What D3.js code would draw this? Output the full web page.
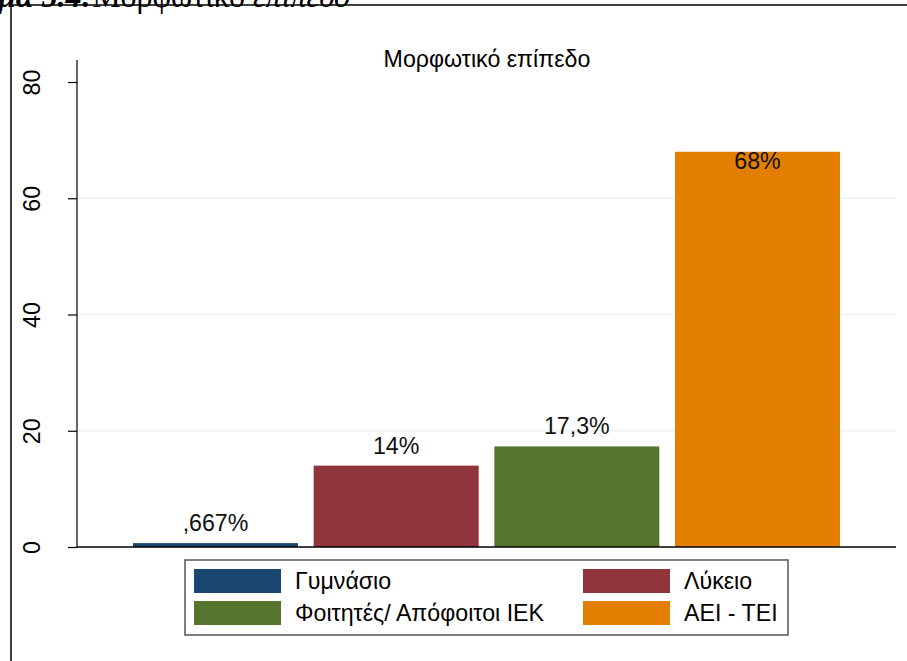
<!DOCTYPE html>
<html><head><meta charset="utf-8">
<script src="https://cdn.jsdelivr.net/npm/d3@7"></script>
<style>body{margin:0;background:#fff}svg{display:block}</style>
</head><body>
<script>
const categories = ["Γυμνάσιο", "Λύκειο", "Φοιτητές/ Απόφοιτοι ΙΕΚ", "ΑΕΙ - ΤΕΙ"];
const values = [0.667, 14, 17.3, 68];
const valueLabels = [",667%", "14%", "17,3%", "68%"];
const colors = ["#1a476f", "#90353b", "#55752f", "#e37e00"];
const yTicks = [0, 20, 40, 60, 80];
const gridTicks = [20, 40, 60];
const chartTitle = "Μορφωτικό επίπεδο";

const W = 907, H = 661;
const svg = d3.select("body").append("svg").attr("width", W).attr("height", H);
const font = "Liberation Sans, Arial, Helvetica, sans-serif";
const FS = 23.2;

// page frame (figure caption cut at top)
svg.append("line").attr("x1", 11).attr("x2", W).attr("y1", 5).attr("y2", 5).attr("stroke", "#000").attr("stroke-width", 1.5);
svg.append("line").attr("x1", 11).attr("x2", 11).attr("y1", 5).attr("y2", H).attr("stroke", "#000").attr("stroke-width", 1.5);
const cap = svg.append("text").attr("x", -2).attr("y", 7).attr("font-family", "Liberation Serif, Times New Roman, serif").attr("font-size", 32);
cap.append("tspan").attr("font-weight", "bold").attr("font-style", "italic").text("μα 5.4:");
cap.append("tspan").text("Μορφωτικό ");
cap.append("tspan").attr("font-style", "italic").text("επίπεδο");

const x = d3.scaleBand().domain(categories).range([77, 896]).paddingInner(0.0867).paddingOuter(0.31);
const y = d3.scaleLinear().domain([0, 80]).range([547, 82]);

// gridlines
svg.append("g").selectAll("line").data(gridTicks).join("line")
  .attr("x1", 78).attr("x2", 896).attr("y1", d => y(d)).attr("y2", d => y(d))
  .attr("stroke", "#eaf2f3").attr("stroke-width", 1.5);

// bars
svg.append("g").selectAll("rect").data(categories).join("rect")
  .attr("x", d => x(d)).attr("width", x.bandwidth())
  .attr("y", (d, i) => y(values[i])).attr("height", (d, i) => y(0) - y(values[i]))
  .attr("fill", (d, i) => colors[i]);

// value labels
svg.append("g").selectAll("text").data(categories).join("text")
  .attr("x", d => x(d) + x.bandwidth() / 2)
  .attr("y", (d, i) => values[i] > 60 ? y(values[i]) + 17 : y(values[i]) - 12)
  .attr("text-anchor", "middle").attr("font-family", font).attr("font-size", FS).attr("fill", "#111")
  .text((d, i) => valueLabels[i]);

// y axis
const yAxis = d3.axisLeft(y).tickValues(yTicks).tickSize(9).tickFormat(d3.format("d"));
const ga = svg.append("g").attr("transform", "translate(77,0)").call(yAxis);
ga.select(".domain").remove();
ga.append("line").attr("x1", 0).attr("x2", 0).attr("y1", 60).attr("y2", 547).attr("stroke", "#000").attr("stroke-width", 1.2);
ga.selectAll(".tick line").attr("stroke", "#000").attr("stroke-width", 1.2);
ga.selectAll(".tick text").attr("font-family", font).attr("font-size", FS).attr("fill", "#000")
  .attr("x", 0).attr("y", 0).attr("dy", null).attr("text-anchor", "middle")
  .attr("transform", "translate(-37,0) rotate(-90)");

// x axis line
svg.append("line").attr("x1", 77).attr("x2", 896).attr("y1", y(0)).attr("y2", y(0)).attr("stroke", "#000").attr("stroke-width", 1.5);

// title
svg.append("text").attr("x", 487).attr("y", 67).attr("text-anchor", "middle")
  .attr("font-family", font).attr("font-size", FS).attr("fill", "#000").text(chartTitle);

// legend
const lg = svg.append("g");
lg.append("rect").attr("x", 185).attr("y", 560).attr("width", 603).attr("height", 75)
  .attr("fill", "#fff").attr("stroke", "#555").attr("stroke-width", 1.5);
const cols = [194, 583], rows = [569, 601];
const items = lg.selectAll("g.item").data(categories).join("g").attr("class", "item")
  .attr("transform", (d, i) => `translate(${cols[i % 2]},${rows[Math.floor(i / 2)]})`);
items.append("rect").attr("width", 87).attr("height", 24).attr("fill", (d, i) => colors[i]);
items.append("text").attr("x", 101).attr("y", 20).attr("font-family", font).attr("font-size", FS).attr("fill", "#000").text(d => d);
</script>
</body></html>
